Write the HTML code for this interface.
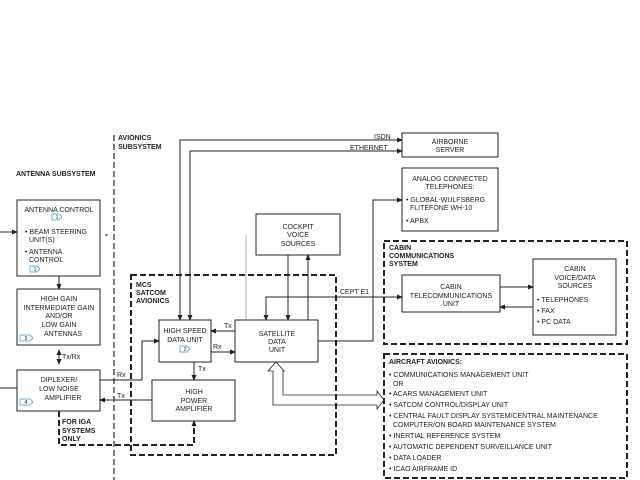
<!DOCTYPE html>
<html><head><style>body{margin:0;background:#fff}svg{display:block}text{font-family:"Liberation Sans",sans-serif;font-size:7px;fill:#222}.b{font-weight:bold}</style></head><body>
<svg width="640" height="480" viewBox="0 0 640 480" xmlns="http://www.w3.org/2000/svg">
<defs><marker id="a" markerWidth="6" markerHeight="6" refX="5" refY="3" orient="auto-start-reverse" markerUnits="userSpaceOnUse"><path d="M0,0.5L6,3L0,5.5z" fill="#222"/></marker></defs>
<g fill="none" stroke="#222" stroke-width="1">
<line x1="114" y1="135" x2="114" y2="480" stroke-dasharray="6,3" stroke-width="1.2"/>
<rect x="17" y="200" width="83" height="76"/>
<rect x="17" y="289" width="83" height="56"/>
<rect x="17" y="370" width="83" height="41"/>
<rect x="131" y="275" width="205" height="180" stroke-dasharray="6,3" stroke-width="2"/>
<rect x="159" y="320" width="52" height="42"/>
<rect x="235" y="320" width="83" height="42"/>
<rect x="152" y="380" width="83" height="41"/>
<rect x="256" y="214" width="84" height="41"/>
<rect x="402" y="133" width="96" height="24"/>
<rect x="402" y="168" width="96" height="63"/>
<rect x="384" y="241" width="243" height="103" stroke-dasharray="6,3" stroke-width="2"/>
<rect x="402" y="275" width="98" height="37"/>
<rect x="533" y="259" width="83" height="76"/>
<rect x="384" y="354" width="243" height="124" stroke-dasharray="6,3" stroke-width="2"/>
<path d="M0,232H17" marker-end="url(#a)"/>
<line x1="105" y1="235" x2="108" y2="235"/>
<path d="M59,276V289" marker-end="url(#a)"/>
<path d="M59,352V364" marker-end="url(#a)"/>
<path d="M59,362V350" marker-end="url(#a)"/>
<path d="M0,388H17"/>
<path d="M59,411V445H194V425" stroke-width="2" stroke-dasharray="6,3"/>
<path d="M194,427V421" marker-end="url(#a)"/>
<path d="M402,140H180V320" marker-start="url(#a)" marker-end="url(#a)"/>
<path d="M402,151H190V320" marker-start="url(#a)" marker-end="url(#a)"/>
<line x1="246" y1="235" x2="246" y2="320" stroke="#888" stroke-width="0.7"/>
<path d="M402,297H266V320" marker-start="url(#a)" marker-end="url(#a)"/>
<path d="M288,255V320" marker-end="url(#a)"/>
<path d="M308,320V255" marker-end="url(#a)"/>
<path d="M318,341H373V200H402" marker-end="url(#a)"/>
<path d="M235,331H211" marker-end="url(#a)"/>
<path d="M211,352H235" marker-end="url(#a)"/>
<path d="M194,362V380" marker-end="url(#a)"/>
<path d="M100,380H142V341H159" marker-end="url(#a)"/>
<path d="M152,400H100" marker-end="url(#a)"/>
<path d="M500,287H533" marker-end="url(#a)"/>
<path d="M533,307H500" marker-end="url(#a)"/>
<path d="M273,405V371H268L276,362L284,371H283V395H377V391L384,400L377,409V405Z" stroke-width="0.8"/>
</g>
<g fill="none" stroke="#3a9ad0" stroke-width="0.7">
<path d="M52,214h7l3,3l-3,3h-7z"/><path d="M30,266h7l3,3l-3,3h-7z"/><path d="M20,335h10l3,3l-3,3h-10z"/><path d="M20,399h10l3,3l-3,3h-10z"/><path d="M180,346h7l3,3l-3,3h-7z"/>
</g>
<g text-anchor="middle"><text x="57" y="219" style="font-size:5px">1</text><text x="35" y="271" style="font-size:5px">1</text><text x="26" y="340" style="font-size:5px">3</text><text x="26" y="404" style="font-size:5px">4</text><text x="185" y="351" style="font-size:5px">2</text></g>
<text class="b" x="118" y="140">AVIONICS</text><text class="b" x="118" y="149">SUBSYSTEM</text>
<text class="b" x="16" y="176">ANTENNA SUBSYSTEM</text>
<g text-anchor="middle">
<text x="59" y="212">ANTENNA CONTROL</text>
<text x="59" y="301">HIGH GAIN</text><text x="59" y="310">INTERMEDIATE GAIN</text><text x="59" y="318">AND/OR</text><text x="59" y="327">LOW GAIN</text><text x="63" y="336">ANTENNAS</text>
<text x="59" y="382">DIPLEXER/</text><text x="59" y="391">LOW NOISE</text><text x="63" y="400">AMPLIFIER</text>
<text x="185" y="333">HIGH SPEED</text><text x="185" y="342">DATA UNIT</text>
<text x="277" y="336">SATELLITE</text><text x="277" y="344">DATA</text><text x="277" y="352">UNIT</text>
<text x="194" y="394">HIGH</text><text x="194" y="403">POWER</text><text x="194" y="411">AMPLIFIER</text>
<text x="298" y="229">COCKPIT</text><text x="298" y="237">VOICE</text><text x="298" y="246">SOURCES</text>
<text x="450" y="144">AIRBORNE</text><text x="450" y="152">SERVER</text>
<text x="450" y="181">ANALOG CONNECTED</text><text x="450" y="189">TELEPHONES:</text>
<text x="451" y="289">CABIN</text><text x="451" y="298">TELECOMMUNICATIONS</text><text x="451" y="306">UNIT</text>
<text x="575" y="271">CABIN</text><text x="575" y="280">VOICE/DATA</text><text x="575" y="288">SOURCES</text>
</g>
<text x="25" y="234">• BEAM STEERING</text><text x="29" y="242">UNIT(S)</text>
<text x="25" y="254">• ANTENNA</text><text x="29" y="262">CONTROL</text>
<text x="406" y="202">• GLOBAL-WULFSBERG</text><text x="410" y="210">FLITEFONE WH-10</text><text x="406" y="223">• APBX</text>
<text class="b" x="389" y="250">CABIN</text><text class="b" x="389" y="258">COMMUNICATIONS</text><text class="b" x="389" y="266">SYSTEM</text>
<text x="537" y="302">• TELEPHONES</text><text x="537" y="313">• FAX</text><text x="537" y="324">• PC DATA</text>
<text class="b" x="136" y="287">MCS</text><text class="b" x="136" y="295">SATCOM</text><text class="b" x="136" y="303">AVIONICS</text>
<text class="b" x="62" y="424">FOR IGA</text><text class="b" x="62" y="433">SYSTEMS</text><text class="b" x="62" y="441">ONLY</text>
<text x="62" y="359">Tx/Rx</text><text x="224" y="328">Tx</text><text x="213" y="349">Rx</text><text x="198" y="371">Tx</text><text x="117" y="377">Rx</text><text x="117" y="398">Tx</text>
<text x="374" y="139">ISDN</text><text x="350" y="150">ETHERNET</text><text x="340" y="294">CEPT E1</text>
<text class="b" x="389" y="364">AIRCRAFT AVIONICS:</text>
<text x="389" y="377">• COMMUNICATIONS MANAGEMENT UNIT</text><text x="393" y="386">OR</text>
<text x="389" y="396">• ACARS MANAGEMENT UNIT</text><text x="389" y="407">• SATCOM CONTROL/DISPLAY UNIT</text>
<text x="389" y="418">• CENTRAL FAULT DISPLAY SYSTEM/CENTRAL MAINTENANCE</text><text x="393" y="427">COMPUTER/ON BOARD MAINTENANCE SYSTEM</text>
<text x="389" y="438">• INERTIAL REFERENCE SYSTEM</text><text x="389" y="449">• AUTOMATIC DEPENDENT SURVEILLANCE UNIT</text>
<text x="389" y="460">• DATA LOADER</text><text x="389" y="471">• ICAO AIRFRAME ID</text>
</svg>
</body></html>
